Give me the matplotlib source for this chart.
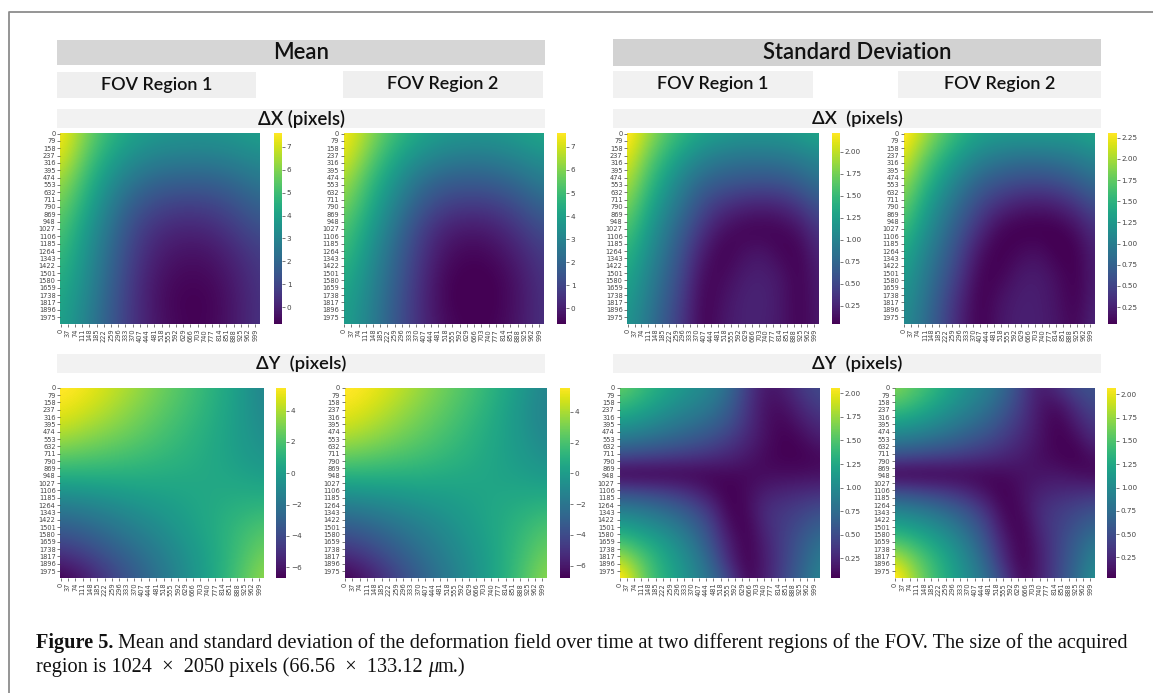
import numpy as np
import matplotlib
matplotlib.use("Agg")
import matplotlib.pyplot as plt
from matplotlib.patches import Rectangle

W, H = 1153, 693

y_labels = [0, 79, 158, 237, 316, 395, 474, 553, 632, 711, 790, 869, 948, 1027, 1106,
            1185, 1264, 1343, 1422, 1501, 1580, 1659, 1738, 1817, 1896, 1975]
x_labels = [0, 37, 74, 111, 148, 185, 222, 259, 296, 333, 370, 407, 444, 481, 518,
            555, 592, 629, 666, 703, 740, 777, 814, 851, 888, 925, 962, 999]

# values, rows top to bottom
mean_dx_r1 = [
    [7.7, 6.0, 4.7, 4.0, 3.7, 3.6, 3.6, 3.7, 4.0],
    [7.3, 5.5, 4.1, 3.3, 2.9, 2.8, 2.8, 3.0, 3.3],
    [6.5, 4.9, 3.4, 2.4, 1.9, 1.8, 1.8, 2.1, 2.6],
    [5.9, 4.4, 2.8, 1.6, 1.0, 0.8, 0.9, 1.3, 1.9],
    [5.4, 3.9, 2.4, 1.0, 0.3, 0.1, 0.2, 0.7, 1.3],
    [5.0, 3.6, 2.1, 0.7, -0.1, -0.35, -0.3, 0.2, 0.8],
    [4.6, 3.4, 1.9, 0.5, -0.35, -0.6, -0.55, -0.1, 0.6],
    [4.3, 3.2, 1.7, 0.4, -0.45, -0.75, -0.7, -0.2, 0.5],
    [4.1, 3.0, 1.6, 0.4, -0.35, -0.7, -0.65, -0.2, 0.5],
]
mean_dx_r2 = [
    [7.7, 6.3, 5.0, 4.2, 3.8, 3.7, 3.7, 3.9, 4.3],
    [7.3, 5.7, 4.3, 3.4, 2.9, 2.7, 2.8, 3.1, 3.5],
    [6.6, 5.0, 3.6, 2.4, 1.8, 1.7, 1.8, 2.2, 2.8],
    [6.0, 4.5, 3.0, 1.7, 0.9, 0.7, 0.8, 1.3, 2.0],
    [5.4, 4.0, 2.5, 1.0, 0.1, -0.15, 0.0, 0.6, 1.3],
    [5.0, 3.6, 2.1, 0.7, -0.3, -0.6, -0.45, 0.1, 0.8],
    [4.5, 3.3, 1.9, 0.5, -0.55, -0.75, -0.7, -0.2, 0.6],
    [4.2, 3.1, 1.7, 0.4, -0.6, -0.8, -0.75, -0.25, 0.5],
    [4.0, 3.0, 1.6, 0.4, -0.45, -0.7, -0.65, -0.2, 0.5],
]
mean_dy_r1 = [
    [5.7, 5.3, 4.5, 3.7, 2.8, 2.0, 1.1, 0.1, -1.3],
    [5.2, 4.6, 3.9, 3.1, 2.4, 1.7, 0.9, 0.0, -1.1],
    [4.0, 3.5, 3.0, 2.5, 1.9, 1.3, 0.7, 0.0, -0.8],
    [2.3, 2.1, 1.9, 1.6, 1.3, 1.0, 0.6, 0.1, -0.4],
    [0.3, 0.4, 0.5, 0.6, 0.6, 0.6, 0.6, 0.5, 0.3],
    [-1.7, -1.4, -1.0, -0.5, -0.1, 0.3, 0.7, 1.0, 1.2],
    [-3.3, -2.9, -2.2, -1.5, -0.8, 0.0, 0.7, 1.5, 2.2],
    [-5.1, -4.4, -3.4, -2.5, -1.5, -0.5, 0.5, 1.7, 2.9],
    [-6.9, -6.0, -4.5, -3.2, -2.0, -0.7, 0.5, 2.0, 3.6],
]
mean_dy_r2 = [
    [5.8, 5.4, 4.6, 3.7, 2.8, 2.0, 1.0, -0.1, -1.3],
    [5.3, 4.7, 3.9, 3.1, 2.4, 1.6, 0.7, -0.4, -1.5],
    [4.2, 3.7, 3.1, 2.5, 1.9, 1.2, 0.5, -0.3, -1.2],
    [2.5, 2.3, 2.0, 1.7, 1.3, 0.9, 0.4, -0.1, -0.7],
    [0.4, 0.5, 0.5, 0.6, 0.5, 0.5, 0.4, 0.3, 0.1],
    [-1.7, -1.4, -1.0, -0.6, -0.2, 0.2, 0.6, 0.9, 1.2],
    [-3.5, -3.0, -2.3, -1.6, -0.9, -0.1, 0.6, 1.4, 2.2],
    [-5.3, -4.5, -3.4, -2.4, -1.4, -0.5, 0.5, 1.7, 2.9],
    [-7.0, -6.0, -4.5, -3.1, -1.9, -0.7, 0.5, 2.0, 3.6],
]
std_dx_r1 = [
    [2.3, 1.95, 1.65, 1.45, 1.3, 1.25, 1.2, 1.2, 1.2, 1.25, 1.35],
    [2.15, 1.75, 1.45, 1.2, 1.02, 0.92, 0.88, 0.88, 0.9, 0.96, 1.05],
    [1.98, 1.58, 1.25, 0.95, 0.75, 0.66, 0.62, 0.6, 0.62, 0.7, 0.85],
    [1.8, 1.42, 1.08, 0.8, 0.52, 0.36, 0.27, 0.24, 0.27, 0.4, 0.6],
    [1.62, 1.27, 0.94, 0.64, 0.34, 0.13, 0.05, 0.03, 0.05, 0.14, 0.4],
    [1.46, 1.15, 0.84, 0.52, 0.18, 0.03, 0.12, 0.18, 0.06, 0.04, 0.28],
    [1.34, 1.05, 0.75, 0.44, 0.08, 0.08, 0.2, 0.24, 0.17, 0.03, 0.22],
    [1.24, 0.98, 0.68, 0.38, 0.03, 0.14, 0.24, 0.26, 0.18, 0.03, 0.2],
    [1.18, 0.92, 0.62, 0.34, 0.03, 0.17, 0.24, 0.24, 0.18, 0.04, 0.18],
]
std_dx_r2 = [
    [2.4, 2.05, 1.75, 1.5, 1.35, 1.3, 1.3, 1.3, 1.3, 1.3, 1.4],
    [2.2, 1.8, 1.5, 1.25, 1.06, 0.96, 0.9, 0.9, 0.93, 1.0, 1.1],
    [1.98, 1.6, 1.27, 0.98, 0.76, 0.64, 0.58, 0.56, 0.6, 0.7, 0.85],
    [1.8, 1.4, 1.06, 0.78, 0.52, 0.34, 0.23, 0.2, 0.24, 0.38, 0.58],
    [1.6, 1.24, 0.92, 0.62, 0.32, 0.08, 0.02, 0.01, 0.02, 0.12, 0.36],
    [1.42, 1.1, 0.8, 0.48, 0.14, 0.02, 0.1, 0.15, 0.03, 0.03, 0.26],
    [1.3, 1.0, 0.7, 0.38, 0.05, 0.06, 0.2, 0.23, 0.13, 0.02, 0.24],
    [1.2, 0.94, 0.6, 0.28, 0.02, 0.16, 0.24, 0.24, 0.16, 0.03, 0.26],
    [1.14, 0.88, 0.56, 0.24, 0.03, 0.18, 0.25, 0.24, 0.18, 0.06, 0.3],
]
std_dy_r1 = [
    [1.6, 1.45, 1.3, 1.18, 1.05, 0.95, 0.75, 0.4, 0.15, 0.2, 0.38, 0.5],
    [1.4, 1.3, 1.18, 1.05, 0.95, 0.85, 0.65, 0.36, 0.12, 0.12, 0.28, 0.42],
    [1.15, 1.08, 0.98, 0.88, 0.8, 0.7, 0.55, 0.32, 0.12, 0.06, 0.18, 0.3],
    [0.85, 0.8, 0.74, 0.68, 0.6, 0.52, 0.4, 0.25, 0.12, 0.03, 0.08, 0.2],
    [0.48, 0.45, 0.42, 0.38, 0.35, 0.3, 0.24, 0.17, 0.08, 0.04, 0.04, 0.08],
    [0.02, 0.02, 0.03, 0.04, 0.05, 0.06, 0.08, 0.08, 0.1, 0.1, 0.1, 0.12],
    [0.5, 0.46, 0.42, 0.36, 0.26, 0.12, 0.02, 0.1, 0.2, 0.24, 0.27, 0.3],
    [0.88, 0.84, 0.76, 0.66, 0.52, 0.32, 0.03, 0.08, 0.3, 0.36, 0.42, 0.5],
    [1.18, 1.1, 1.0, 0.88, 0.7, 0.46, 0.1, 0.03, 0.28, 0.4, 0.52, 0.65],
    [1.5, 1.36, 1.22, 1.05, 0.85, 0.55, 0.2, 0.02, 0.22, 0.42, 0.6, 0.8],
    [1.85, 1.6, 1.35, 1.15, 0.95, 0.68, 0.26, 0.02, 0.2, 0.42, 0.65, 0.88],
    [2.15, 1.72, 1.4, 1.2, 1.0, 0.78, 0.45, 0.04, 0.2, 0.45, 0.7, 0.95],
]
std_dy_r2 = [
    [1.7, 1.55, 1.4, 1.22, 1.05, 0.92, 0.72, 0.42, 0.16, 0.32, 0.5, 0.55],
    [1.5, 1.4, 1.25, 1.1, 0.96, 0.82, 0.62, 0.38, 0.13, 0.1, 0.33, 0.48],
    [1.2, 1.14, 1.04, 0.92, 0.8, 0.68, 0.5, 0.32, 0.13, 0.02, 0.2, 0.38],
    [0.88, 0.84, 0.77, 0.7, 0.6, 0.5, 0.38, 0.25, 0.12, 0.02, 0.08, 0.28],
    [0.5, 0.47, 0.43, 0.4, 0.35, 0.3, 0.24, 0.18, 0.1, 0.05, 0.01, 0.12],
    [0.01, 0.01, 0.02, 0.04, 0.05, 0.06, 0.08, 0.12, 0.14, 0.14, 0.1, 0.06],
    [0.5, 0.46, 0.4, 0.34, 0.24, 0.1, 0.02, 0.12, 0.22, 0.26, 0.28, 0.3],
    [0.92, 0.86, 0.78, 0.66, 0.52, 0.3, 0.03, 0.08, 0.3, 0.38, 0.45, 0.52],
    [1.22, 1.14, 1.04, 0.9, 0.7, 0.46, 0.1, 0.02, 0.28, 0.42, 0.55, 0.68],
    [1.55, 1.42, 1.25, 1.08, 0.86, 0.56, 0.2, 0.01, 0.22, 0.44, 0.65, 0.85],
    [1.9, 1.65, 1.42, 1.2, 0.96, 0.68, 0.26, 0.01, 0.2, 0.45, 0.7, 0.95],
    [2.18, 1.78, 1.48, 1.25, 1.02, 0.78, 0.42, 0.04, 0.2, 0.47, 0.75, 1.05],
]

ticks_dx = [0, 1, 2, 3, 4, 5, 6, 7]
ticks_dy = [-6, -4, -2, 0, 2, 4]
ticks_std = [0.25, 0.50, 0.75, 1.00, 1.25, 1.50, 1.75, 2.00]
ticks_std2 = [0.25, 0.50, 0.75, 1.00, 1.25, 1.50, 1.75, 2.00, 2.25]

# data, vmin, vmax, cbar ticks, heatmap left/right/top/bottom, cbar left/right (pixels)
panels = [
    (mean_dx_r1, -0.73, 7.58, ticks_dx, 60.5, 260, 133.5, 324, 273.5, 282),
    (mean_dx_r2, -0.68, 7.58, ticks_dx, 344, 544, 133.5, 324, 557, 566),
    (std_dx_r1, 0.04, 2.21, ticks_std, 627.5, 819, 133.5, 324, 831.5, 840),
    (std_dx_r2, 0.05, 2.30, ticks_std2, 904, 1095, 133.5, 324, 1108, 1116.5),
    (mean_dy_r1, -6.7, 5.47, ticks_dy, 60.5, 264, 387.7, 578, 276, 286),
    (mean_dy_r2, -6.8, 5.56, ticks_dy, 345, 547, 387.7, 578, 560, 570),
    (std_dy_r1, 0.04, 2.06, ticks_std, 619.5, 819, 387.7, 578, 831, 840),
    (std_dy_r2, 0.03, 2.07, ticks_std, 895, 1095, 387.7, 578, 1106.7, 1116),
]

# text, left, right, top, bottom, fill colour, font size
header_bars = [
    ("Mean", 57, 544.5, 40, 64.5, "#d6d6d6", 15.8),
    ("Standard Deviation", 613, 1101, 39, 66, "#d2d2d2", 15.8),
    ("FOV Region 1", 57, 256, 72, 97.5, "#efefef", 13),
    ("FOV Region 2", 343, 543, 71, 98, "#efefef", 13),
    ("FOV Region 1", 613, 813, 71, 98, "#f1f1f1", 13),
    ("FOV Region 2", 898, 1101, 71, 98, "#f1f1f1", 13),
    ("ΔX (pixels)", 57, 545, 109, 128, "#f2f2f2", 13.4),
    ("ΔX  (pixels)", 613, 1101, 109, 128, "#f2f2f2", 13.2),
    ("ΔY  (pixels)", 57, 545, 354, 373, "#f2f2f2", 13.2),
    ("ΔY  (pixels)", 613, 1101, 354, 373, "#f2f2f2", 13.2),
]


def px_axes(fig, left, right, top, bottom):
    return fig.add_axes([left / W, 1 - bottom / H, (right - left) / W, (bottom - top) / H])


fig = plt.figure(figsize=(W / 100, H / 100), dpi=100, facecolor="white")

# page layer in pixel coordinates
page = fig.add_axes([0, 0, 1, 1])
page.set_xlim(0, W)
page.set_ylim(H, 0)
page.axis("off")
page.plot([8.5, 8.5, W], [H, 12, 12], color="#8c8c8c", lw=1.3)

for label, x0, x1, y0, y1, fill, size in header_bars:
    page.add_patch(Rectangle((x0, y0), x1 - x0, y1 - y0, facecolor=fill, edgecolor="none"))
    page.text((x0 + x1) / 2, (y0 + y1) / 2, label, ha="center", va="center",
              family="Lato", weight="semibold", fontsize=size, color="#111111")

for values, vmin, vmax, cticks, left, right, top, bottom, cleft, cright in panels:
    grid = np.array(values)
    rows, cols = grid.shape
    dx = 1024 / (cols - 1) / 2
    dy = 2050 / (rows - 1) / 2
    ax = px_axes(fig, left, right, top, bottom)
    im = ax.imshow(grid, cmap="viridis", vmin=vmin, vmax=vmax, aspect="auto",
                   interpolation="bicubic", extent=(-dx, 1024 + dx, 2050 + dy, -dy))
    ax.set_xlim(0, 1024)
    ax.set_ylim(2050, 0)
    ax.set_xticks([v + 0.5 for v in x_labels])
    ax.set_xticklabels(x_labels, rotation=90)
    ax.set_yticks([v + 0.5 for v in y_labels])
    ax.set_yticklabels(y_labels)
    ax.tick_params(labelsize=4.8, length=2, width=0.5, pad=1.5, color="#444444", labelcolor="#444444")
    for s in ax.spines.values():
        s.set_visible(False)

    cax = px_axes(fig, cleft, cright, top, bottom)
    cb = fig.colorbar(im, cax=cax)
    cb.set_ticks(cticks)
    if cticks[0] == 0.25:
        cb.set_ticklabels(["%.2f" % t for t in cticks])
    cb.outline.set_visible(False)
    cb.ax.tick_params(labelsize=5.2, length=2, width=0.5, pad=1.5, color="#444444", labelcolor="#444444")

# caption, bold and italic runs chained so they follow each other
serif = "Liberation Serif"
cap_size = 14.6
t = page.text(36, 648, "Figure 5.", family=serif, weight="bold", fontsize=cap_size, color="#111111", va="baseline")
page.annotate(" Mean and standard deviation of the deformation field over time at two different regions of the FOV. The size of the acquired",
              xy=(1, 0), xycoords=t, va="bottom", family=serif, fontsize=cap_size, color="#111111")
t = page.text(36, 672, "region is 1024  ×  2050 pixels (66.56  ×  133.12 ", family=serif, fontsize=cap_size, color="#111111", va="baseline")
t = page.annotate("μ", xy=(1, 0), xycoords=t, va="bottom", family=serif, style="italic", fontsize=cap_size, color="#111111")
page.annotate("m.)", xy=(1, 0), xycoords=t, va="bottom", family=serif, fontsize=cap_size, color="#111111")

fig.savefig("out.png", dpi=100)
